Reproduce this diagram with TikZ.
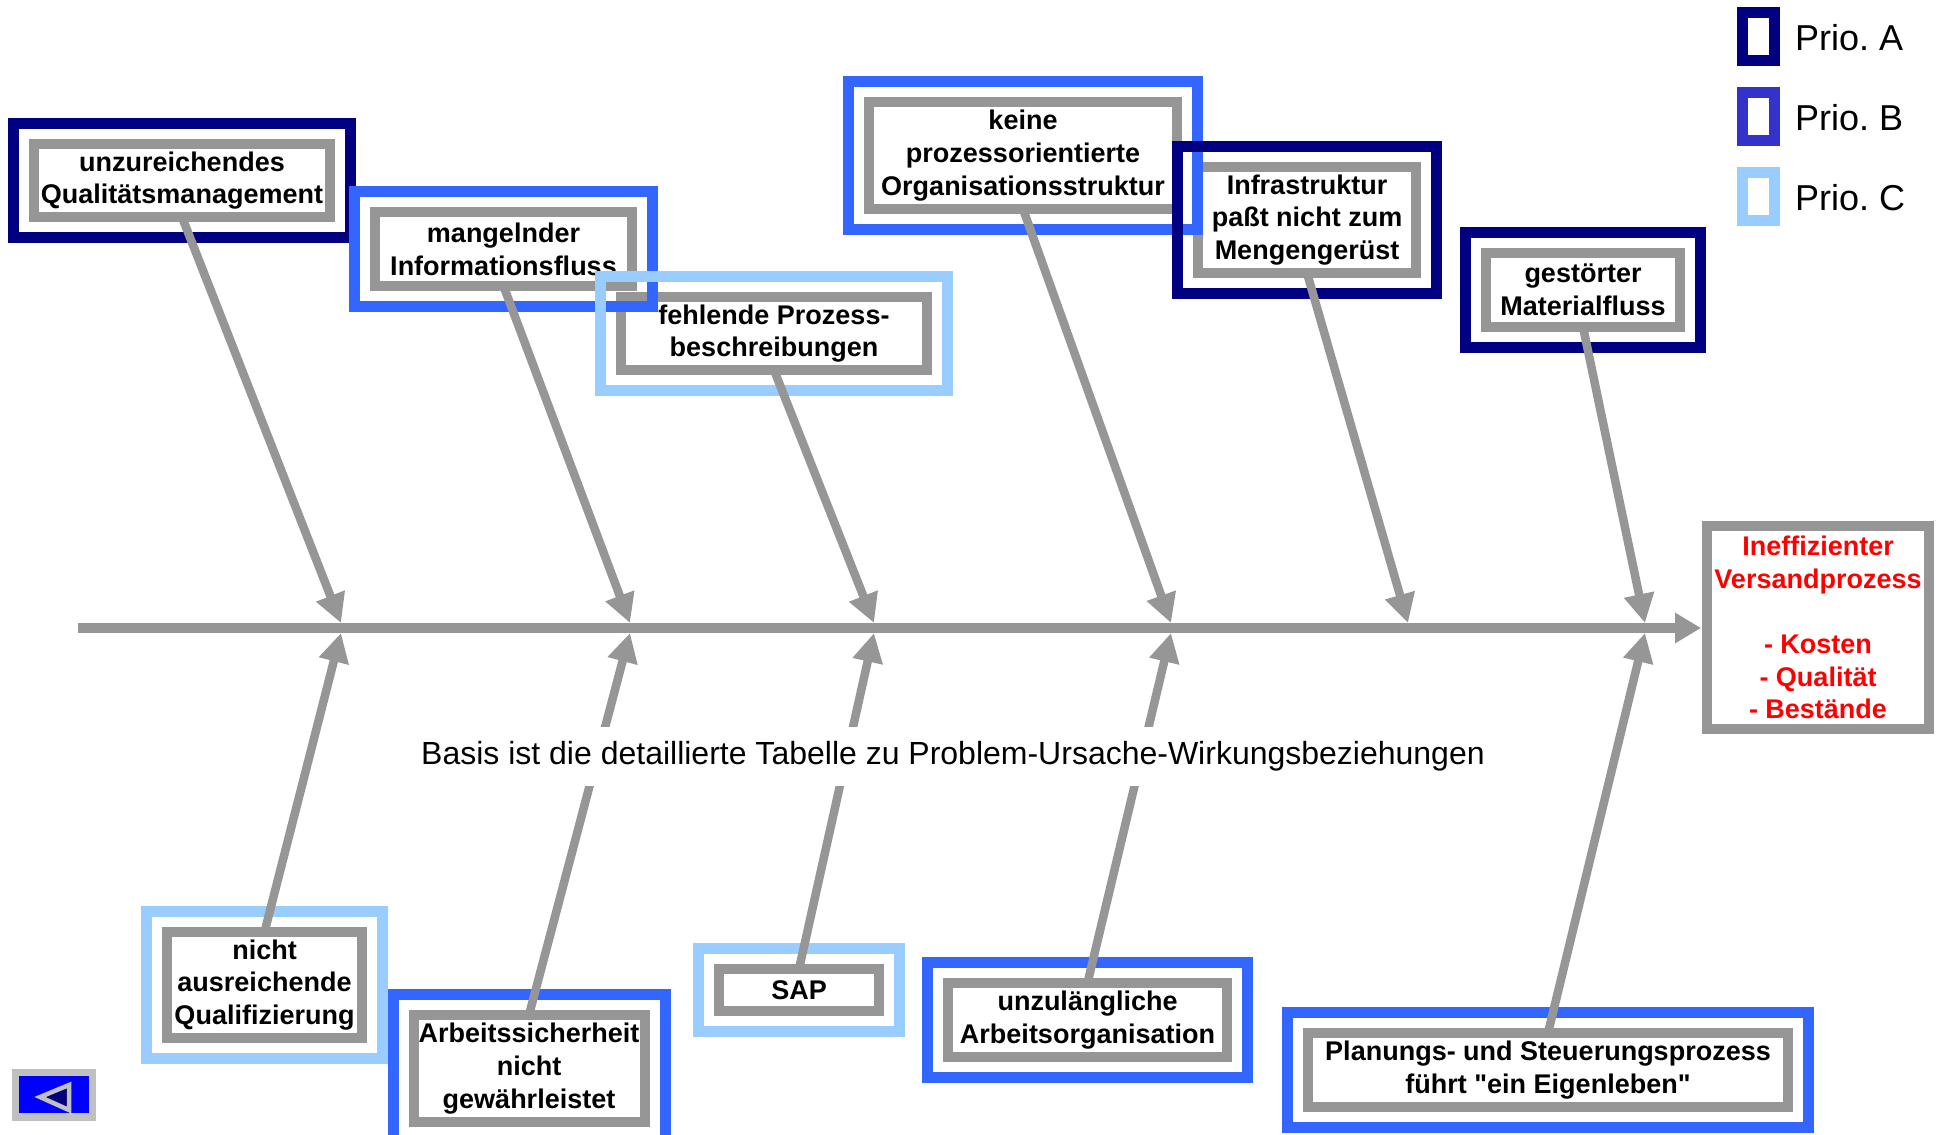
\documentclass[tikz,border=0pt]{standalone}
\usepackage{fontspec}
\setmainfont{Liberation Sans}[Ligatures=TeXOff]
\frenchspacing
\usetikzlibrary{arrows.meta,calc}
\definecolor{prioA}{HTML}{000080}
\definecolor{prioB}{HTML}{3366FF}
\definecolor{prioBleg}{HTML}{3333CC}
\definecolor{prioC}{HTML}{99CCFF}
\definecolor{lgray}{HTML}{969696}
\definecolor{btngray}{HTML}{C0C0C0}
\definecolor{btnblue}{HTML}{0000FF}
\tikzset{
  cause/.style={draw=lgray, line width=10pt, fill=white, inner sep=0pt, outer sep=0pt,
    align=center, font=\bfseries\fontsize{27}{32.7}\selectfont},
  effectbox/.style={draw=lgray, line width=10pt, fill=white, inner sep=0pt, outer sep=0pt,
    align=center, text=red, font=\bfseries\fontsize{27}{32.7}\selectfont},
  frA/.style={draw=prioA, line width=11pt},
  frB/.style={draw=prioB, line width=11pt},
  frC/.style={draw=prioC, line width=11pt},
  legsq/.style={line width=11pt, minimum width=32pt, minimum height=48pt, inner sep=0pt, outer sep=0pt},
  legtxt/.style={anchor=base west, inner sep=0pt, font=\fontsize{36}{43}\selectfont},
  spine/.style={draw=lgray, line width=10pt, -{Triangle[length=26pt,width=29pt]}},
  branch/.style={draw=lgray, line width=8.5pt, -{Triangle[length=29pt,width=29pt]}},
}
\newcommand\prioframe[2]{\draw[#1] ($(#2.north west)+(-20.5,-20.5)$) rectangle ($(#2.south east)+(20.5,20.5)$);}
\begin{document}
\begin{tikzpicture}[x=1pt,y=-1pt]
\useasboundingbox (0,0) rectangle (1936,1135);

% cause boxes (inner)
\node[cause, minimum width=296pt, minimum height=73pt] (q1) at (182,180.5) {unzureichendes\\Qualitätsmanagement};
\node[cause, minimum width=257pt, minimum height=74pt] (q2) at (503.5,249) {mangelnder\\Informationsfluss};
\node[cause, minimum width=306pt, minimum height=73pt] (q3) at (774,333.5) {fehlende Prozess-\\beschreibungen};
\node[cause, minimum width=308pt, minimum height=107pt] (q4) at (1023,155.5) {keine\\prozessorientierte\\Organisationsstruktur};
\node[cause, minimum width=218pt, minimum height=106pt] (q5) at (1307,220) {Infrastruktur\\paßt nicht zum\\Mengengerüst};
\node[cause, minimum width=194pt, minimum height=74pt] (q6) at (1583,290) {gestörter\\Materialfluss};
\node[cause, minimum width=195pt, minimum height=106pt] (q7) at (264.5,985) {nicht\\ausreichende\\Qualifizierung};
\node[cause, minimum width=231pt, minimum height=107pt] (q8) at (529,1068.5) {Arbeitssicherheit\\nicht\\gewährleistet};
\node[cause, minimum width=160pt, minimum height=42pt] (q9) at (799,990) {SAP};
\node[cause, minimum width=279pt, minimum height=74pt] (q10) at (1087.5,1020) {unzulängliche\\Arbeitsorganisation};
\node[cause, minimum width=480pt, minimum height=74pt] (q11) at (1548,1070) {Planungs- und Steuerungsprozess\\führt "ein Eigenleben"};

% priority frames
\prioframe{frA}{q1}
\prioframe{frB}{q2}
\prioframe{frC}{q3}
\prioframe{frB}{q4}
\prioframe{frA}{q5}
\prioframe{frA}{q6}
\prioframe{frC}{q7}
\prioframe{frB}{q8}
\prioframe{frC}{q9}
\prioframe{frB}{q10}
\prioframe{frB}{q11}

% effect box
\node[effectbox, minimum width=222pt, minimum height=203pt] (eff) at (1818,627.5)
  {Ineffizienter\\Versandprozess\\[32.7pt]- Kosten\\- Qualität\\- Bestände};

% spine
\coordinate (s0) at (78,628);
\coordinate (s1) at (1701,628);
\draw[spine] (s0) -- (s1);

% tips
\coordinate (t1) at (341,623);
\coordinate (t2) at (630,623);
\coordinate (t3) at (874,623);
\coordinate (t4) at (1171,623);
\coordinate (t5) at (1408,623);
\coordinate (t6) at (1645,623);
\coordinate (b1) at (341,633);
\coordinate (b2) at (630,633);
\coordinate (b3) at (874,633);
\coordinate (b4) at (1171,633);
\coordinate (b5) at (1645,633);

\draw[branch] (q1.south) -- (t1);
\draw[branch] (q2.south) -- (t2);
\draw[branch] (q3.south) -- (t3);
\draw[branch] (q4.south) -- (t4);
\draw[branch] (q5.south) -- (t5);
\draw[branch] (q6.south) -- (t6);
\draw[branch] (q7.north) -- (b1);
\draw[branch] (q8.north) -- (b2);
\draw[branch] (q9.north) -- (b3);
\draw[branch] (q10.north) -- (b4);
\draw[branch] (q11.north) -- (b5);

% note text
\node[fill=white, inner xsep=6pt, inner ysep=0pt, minimum height=59pt, font=\fontsize{32}{38}\selectfont] (basis) at (953,756)
  {Basis ist die detaillierte Tabelle zu Problem-Ursache-Wirkungsbeziehungen};

% legend
\node[legsq, draw=prioA] (lgA) at (1758.5,36.5) {};
\node[legsq, draw=prioBleg] (lgB) at (1758.5,116.5) {};
\node[legsq, draw=prioC] (lgC) at (1758.5,196.5) {};
\node[legtxt] (lgAt) at (1795,50) {Prio. A};
\node[legtxt] (lgBt) at (1795,130) {Prio. B};
\node[legtxt] (lgCt) at (1795,210) {Prio. C};

% back button
\fill[btngray] (12,1069) rectangle (96,1121);
\fill[btnblue] (19,1076) rectangle (89,1113);
\draw[btngray, fill=prioA, line width=4.5pt, line join=miter] (40,1097) -- (69,1085) -- (69,1110) -- cycle;
\end{tikzpicture}
\end{document}
